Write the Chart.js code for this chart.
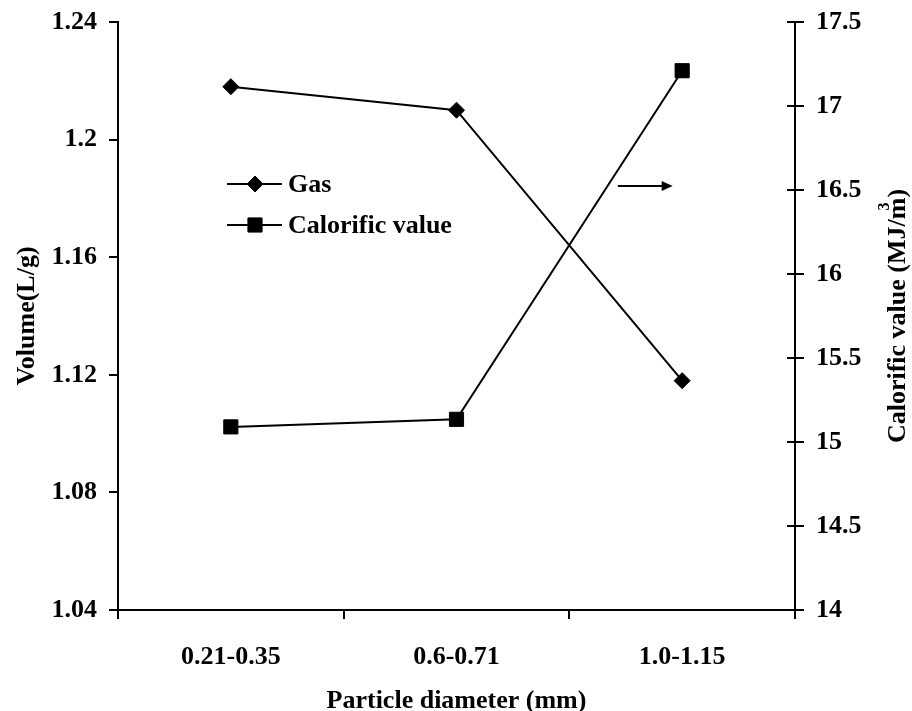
<!DOCTYPE html>
<html>
<head>
<meta charset="utf-8">
<script src="https://cdn.jsdelivr.net/npm/chart.js@4.4.1/dist/chart.umd.min.js"></script>
<style>
  html, body { margin: 0; padding: 0; background: #ffffff; }
  #wrap { width: 912px; height: 711px; }
</style>
</head>
<body>
<div id="wrap"><canvas id="c" width="912" height="711"></canvas></div>
<script>
// Particle size classes and measured results
const categories = ['0.21-0.35', '0.6-0.71', '1.0-1.15'];
const gasVolume = [1.218, 1.210, 1.118];          // L/g
const calorificValue = [15.09, 15.135, 17.21];    // MJ/m3
const volumeTicks = [1.04, 1.08, 1.12, 1.16, 1.2, 1.24];
const calorificTicks = [14, 14.5, 15, 15.5, 16, 16.5, 17, 17.5];
const seriesNames = ['Gas', 'Calorific value'];
const axisTitles = {
  x: 'Particle diameter (mm)',
  y: 'Volume(L/g)',
  y2: 'Calorific value (MJ/m',
  y2Sup: '3',
  y2End: ')'
};

const FONT_FAMILY = "'Liberation Serif', 'Times New Roman', serif";
const FONT_SIZE = 26;
const tickFont = { family: FONT_FAMILY, size: FONT_SIZE, weight: 'bold' };

function fontStr(size) { return 'bold ' + size + 'px ' + FONT_FAMILY; }

const axisGrid = {
  display: true,
  drawOnChartArea: false,
  drawTicks: true,
  tickLength: 9,
  color: '#000',
  lineWidth: 2
};

// vertical axes: fixed width, and no extra room reserved for the end labels
function fitVertical(width) {
  return s => {
    s.width = width;
    s.paddingTop = 0;
    s.paddingBottom = 0;
  };
}

// Titles, legend, inward ticks on the right axis and the pointer arrow
const decorations = {
  id: 'decorations',
  afterDraw(chart) {
    const ctx = chart.ctx;
    const area = chart.chartArea;
    const sx = chart.scales.x, sy2 = chart.scales.y2;
    const midY = (area.top + area.bottom) / 2;
    ctx.save();

    // inward half of the right-axis tick marks
    ctx.strokeStyle = '#000';
    ctx.lineWidth = 2;
    sy2.ticks.forEach(t => {
      const py = Math.round(sy2.getPixelForValue(t.value));
      ctx.beginPath();
      ctx.moveTo(area.right - 8, py);
      ctx.lineTo(area.right, py);
      ctx.stroke();
    });

    ctx.fillStyle = '#000';
    ctx.textBaseline = 'middle';
    ctx.textAlign = 'center';
    ctx.font = fontStr(FONT_SIZE);

    // x-axis title
    ctx.fillText(axisTitles.x, (area.left + area.right) / 2, 701);

    // left axis title
    ctx.save();
    ctx.translate(27, midY);
    ctx.rotate(-Math.PI / 2);
    ctx.fillText(axisTitles.y, 0, 0);
    ctx.restore();

    // right axis title with superscript
    ctx.save();
    ctx.translate(898, midY);
    ctx.rotate(-Math.PI / 2);
    ctx.textAlign = 'left';
    const wMain = ctx.measureText(axisTitles.y2).width;
    const wEnd = ctx.measureText(axisTitles.y2End).width;
    const total = wMain + wEnd;
    const x0 = -total / 2;
    ctx.fillText(axisTitles.y2, x0, 0);
    ctx.fillText(axisTitles.y2End, x0 + wMain, 0);
    ctx.font = fontStr(16);
    ctx.fillText(axisTitles.y2Sup, x0 + wMain - 13, -13);
    ctx.restore();

    // legend
    const lx = area.left + 109;
    const rows = [184, 225];
    chart.data.datasets.forEach((ds, i) => {
      const y = rows[i];
      ctx.strokeStyle = ds.borderColor;
      ctx.lineWidth = ds.borderWidth;
      ctx.beginPath();
      ctx.moveTo(lx, y);
      ctx.lineTo(lx + 55, y);
      ctx.stroke();
      ctx.fillStyle = ds.pointBackgroundColor;
      ctx.strokeStyle = ds.pointBorderColor;
      ctx.lineWidth = ds.pointBorderWidth;
      Chart.helpers.drawPoint(ctx, {
        pointStyle: ds.pointStyle,
        radius: ds.pointRadius,
        rotation: 0,
        borderWidth: ds.pointBorderWidth
      }, lx + 28, y);
      ctx.fillStyle = '#000';
      ctx.textAlign = 'left';
      ctx.font = fontStr(FONT_SIZE);
      ctx.fillText(ds.label, lx + 61, y + 1);
    });

    // arrow pointing to the right-hand axis
    const ay = Math.round(sy2.getPixelForValue(16.524));
    const ax0 = sx.getPixelForValue(1.715);
    const ax1 = sx.getPixelForValue(1.958);
    ctx.strokeStyle = '#000';
    ctx.fillStyle = '#000';
    ctx.lineWidth = 2;
    ctx.beginPath();
    ctx.moveTo(ax0, ay);
    ctx.lineTo(ax1 - 9, ay);
    ctx.stroke();
    ctx.beginPath();
    ctx.moveTo(ax1, ay);
    ctx.lineTo(ax1 - 11, ay - 5);
    ctx.lineTo(ax1 - 11, ay + 5);
    ctx.closePath();
    ctx.fill();

    ctx.restore();
  }
};

new Chart(document.getElementById('c'), {
  type: 'line',
  data: {
    labels: categories,
    datasets: [
      {
        label: seriesNames[0],
        data: gasVolume,
        yAxisID: 'y',
        borderColor: '#000',
        borderWidth: 2,
        pointStyle: 'rectRot',
        pointRadius: 8,
        pointHoverRadius: 8,
        pointBackgroundColor: '#000',
        pointBorderColor: '#000',
        pointBorderWidth: 1,
        tension: 0,
        fill: false
      },
      {
        label: seriesNames[1],
        data: calorificValue,
        yAxisID: 'y2',
        borderColor: '#000',
        borderWidth: 2,
        pointStyle: 'rect',
        pointRadius: 10,
        pointHoverRadius: 10,
        pointBackgroundColor: '#000',
        pointBorderColor: '#000',
        pointBorderWidth: 1,
        tension: 0,
        fill: false
      }
    ]
  },
  options: {
    responsive: false,
    animation: false,
    devicePixelRatio: 1,
    layout: { padding: { top: 22, left: 0, right: 0, bottom: 0 } },
    plugins: {
      legend: { display: false },
      tooltip: { enabled: false },
      title: { display: false }
    },
    scales: {
      x: {
        type: 'category',
        offset: true,
        grid: Object.assign({}, axisGrid, { offset: true }),
        border: { display: true, color: '#000', width: 2 },
        ticks: { color: '#000', font: tickFont, padding: 23, maxRotation: 0, autoSkip: false },
        afterFit(s) { s.height = 101; s.paddingLeft = 0; s.paddingRight = 0; }
      },
      y: {
        type: 'linear',
        position: 'left',
        min: 1.04,
        max: 1.24,
        grid: axisGrid,
        border: { display: true, color: '#000', width: 2 },
        afterBuildTicks(s) { s.ticks = volumeTicks.map(v => ({ value: v })); },
        ticks: { color: '#000', font: tickFont, padding: 12, callback: v => String(v) },
        afterFit: fitVertical(118)
      },
      y2: {
        type: 'linear',
        position: 'right',
        min: 14,
        max: 17.5,
        grid: axisGrid,
        border: { display: true, color: '#000', width: 2 },
        afterBuildTicks(s) { s.ticks = calorificTicks.map(v => ({ value: v })); },
        ticks: { color: '#000', font: tickFont, padding: 12, callback: v => String(v) },
        afterFit: fitVertical(117)
      }
    }
  },
  plugins: [decorations]
});
</script>
</body>
</html>
